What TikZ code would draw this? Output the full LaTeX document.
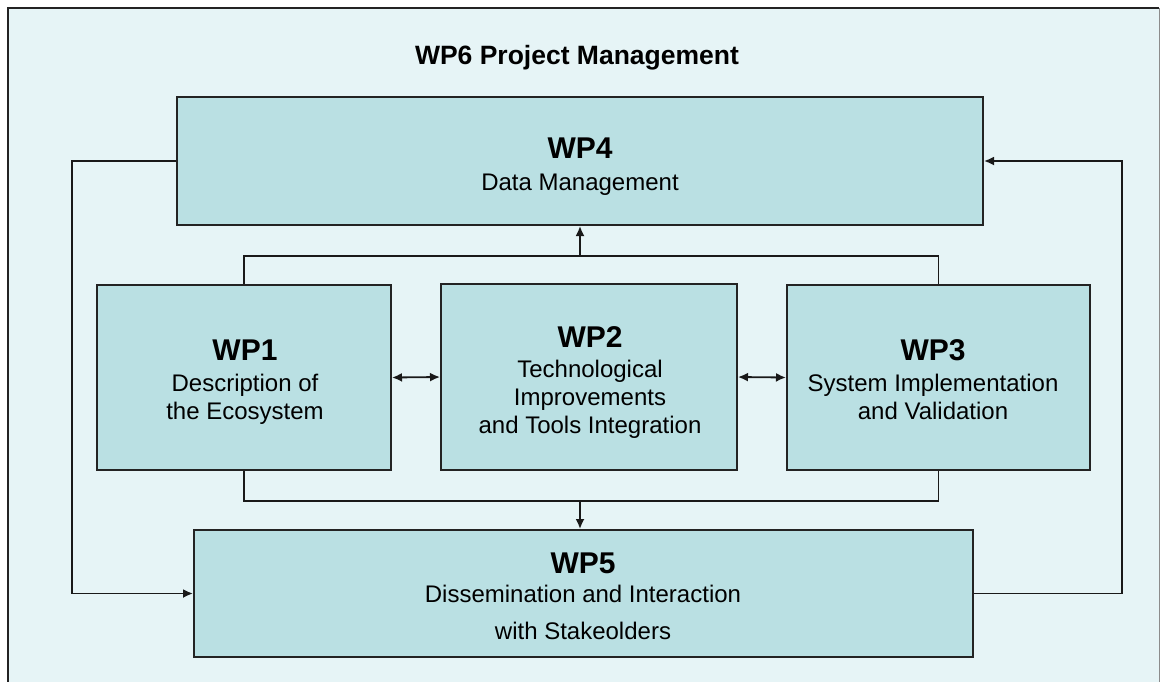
\documentclass[tikz,border=0pt]{standalone}
\usepackage{fontspec}
\setmainfont{Liberation Sans}
\usetikzlibrary{arrows.meta}

\definecolor{wpfill}{RGB}{186,224,227}
\definecolor{wpline}{RGB}{35,35,35}
\definecolor{paper}{RGB}{230,244,246}

\tikzset{
  wpbox/.style={draw=wpline, line width=2pt, fill=wpfill, rectangle, inner sep=0pt},
  wpnum/.style={anchor=base, inner sep=0pt, font=\fontsize{30}{32}\selectfont\bfseries},
  wpdesc/.style={anchor=base, inner sep=0pt, font=\fontsize{24}{28}\selectfont},
  headline/.style={anchor=base, inner sep=0pt, font=\fontsize{26.5}{30}\selectfont\bfseries},
  link/.style={draw=black!90, line width=1.8pt},
  tip/.style={-{Latex[length=10pt,width=9pt]}},
  bothtips/.style={{Latex[length=10pt,width=9pt]}-{Latex[length=10pt,width=9pt]}}
}

\begin{document}
\begin{tikzpicture}[x=1pt,y=-1pt]
  \useasboundingbox (0,0) rectangle (1160,681);

  % dotted paper and its frame
  \fill[paper] (8,8) rectangle (1159,690);
  \draw[wpline, line width=2pt] (8,690) -- (8,8) -- (1159,8);
  \draw[black!45, line width=1pt] (1159,8) -- (1159,690);

  % heading
  \node[headline] (wp6) at (577,64) {WP6 Project Management};

  % work package boxes
  \node[wpbox, minimum width=806pt, minimum height=128pt] (wp4) at (580,161) {};
  \node[wpbox, minimum width=294pt, minimum height=185pt] (wp1) at (244,377.5) {};
  \node[wpbox, minimum width=296pt, minimum height=186pt] (wp2) at (589,377) {};
  \node[wpbox, minimum width=303pt, minimum height=185pt] (wp3) at (938.5,377.5) {};
  \node[wpbox, minimum width=779pt, minimum height=127pt] (wp5) at (583.5,593.5) {};

  % labels
  \node[wpnum]  (wp4n)  at (580,158) {WP4};
  \node[wpdesc] (wp4d)  at (580,190) {Data Management};

  \node[wpnum]  (wp1n)  at (245,360) {WP1};
  \node[wpdesc] (wp1d1) at (245,391) {Description of};
  \node[wpdesc] (wp1d2) at (245,419) {the Ecosystem};

  \node[wpnum]  (wp2n)  at (590,347) {WP2};
  \node[wpdesc] (wp2d1) at (590,377) {Technological};
  \node[wpdesc] (wp2d2) at (590,405) {Improvements};
  \node[wpdesc] (wp2d3) at (590,433) {and Tools Integration};

  \node[wpnum]  (wp3n)  at (933,360) {WP3};
  \node[wpdesc] (wp3d1) at (933,391) {System Implementation};
  \node[wpdesc] (wp3d2) at (933,419) {and Validation};

  \node[wpnum]  (wp5n)  at (583,573) {WP5};
  \node[wpdesc] (wp5d1) at (583,602) {Dissemination and Interaction};
  \node[wpdesc] (wp5d2) at (583,639) {with Stakeolders};

  % junction points of the two buses
  \coordinate (topbus)  at (580,256);
  \coordinate (botbus)  at (580,501);
  \coordinate (leftrun) at (72,0);
  \coordinate (rightrun) at (1122,0);

  % upper bus: WP1 and WP3 feed WP4
  \draw[link] (wp1.north) |- (topbus) -| (wp3.north);
  \draw[link, tip] (topbus) -- (topbus |- wp4.south);

  % lower bus: WP1 and WP3 feed WP5
  \draw[link] (wp1.south) |- (botbus) -| (wp3.south);
  \draw[link, tip] (botbus) -- (botbus |- wp5.north);

  % exchanges between the middle packages
  \draw[link, bothtips] (wp1.east) -- (wp2.west);
  \draw[link, bothtips] (wp2.east) -- (wp3.west);

  % outer loops between WP4 and WP5
  \draw[link, tip] (wp4.west) -- (leftrun |- wp4.west) -- (leftrun |- wp5.west) -- (wp5.west);
  \draw[link, tip] (wp5.east) -- (rightrun |- wp5.east) -- (rightrun |- wp4.east) -- (wp4.east);
\end{tikzpicture}
\end{document}
